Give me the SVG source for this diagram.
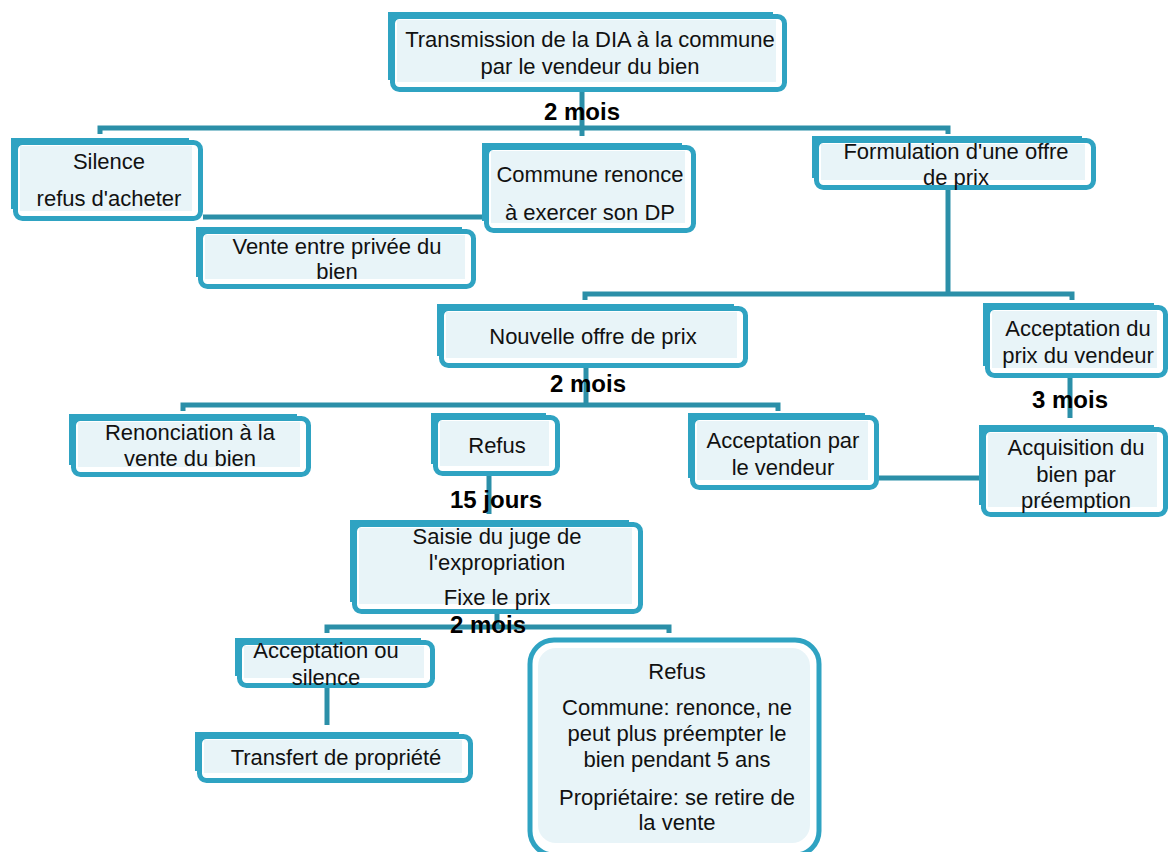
<svg xmlns="http://www.w3.org/2000/svg" width="1169" height="852" viewBox="0 0 1169 852">
<style>
.bd{fill:#fff;stroke:#2FA3C2;stroke-width:5}
.tl{fill:none;stroke:#2FA3C2;stroke-width:5}
.fl{fill:#E8F4F8}
.c{fill:none;stroke:#2B8FA8;stroke-width:5}
text{font-family:"Liberation Sans",Arial,sans-serif;font-size:22px;fill:#111;text-anchor:middle}
text.lb{font-weight:bold;font-size:24px;fill:#000}
</style>
<rect width="1169" height="852" fill="#fff"/>
<g id="connectors">
<path class="c" d="M582 88V136"/>
<path class="c" d="M100 134V128H948V134"/>
<path class="c" d="M203 217H483"/>
<path class="c" d="M948 190V294"/>
<path class="c" d="M585 300V294H1072V300"/>
<path class="c" d="M586 367V405"/>
<path class="c" d="M183 411V405H778V411"/>
<path class="c" d="M1070 378V418"/>
<path class="c" d="M879 478H979"/>
<path class="c" d="M489 476V514"/>
<path class="c" d="M327 633V627H669V633"/>
<path class="c" d="M497 614V627"/>
<path class="c" d="M327 688V725"/>
</g>
<g id="n1"><rect class="bd" x="392.5" y="16.5" width="392" height="73" rx="7"/><rect class="fl" x="397" y="20" width="379" height="62"/><path class="tl" d="M390.5 80V14.5H773"/><text x="590" y="47">Transmission de la DIA à la commune</text><text x="590" y="74">par le vendeur du bien</text></g>
<g id="n2"><rect class="bd" x="15.5" y="142.5" width="185" height="76" rx="7"/><rect class="fl" x="20" y="146" width="172" height="65"/><path class="tl" d="M13.5 209V140.5H189"/><text x="109" y="169">Silence</text><text x="109" y="206">refus d'acheter</text></g>
<g id="n3"><rect class="bd" x="486.5" y="147.5" width="207" height="83" rx="7"/><rect class="fl" x="491" y="151" width="194" height="72"/><path class="tl" d="M484.5 221V145.5H682"/><text x="590" y="182">Commune renonce</text><text x="590" y="220">à exercer son DP</text></g>
<g id="n4"><rect class="bd" x="816.5" y="140.5" width="277" height="47" rx="7"/><rect class="fl" x="821" y="144" width="264" height="36"/><path class="tl" d="M814.5 178V138.5H1082"/><text x="956" y="159">Formulation d'une offre</text><text x="956" y="185">de prix</text></g>
<g id="n5"><rect class="bd" x="200.5" y="231.5" width="273" height="55" rx="7"/><rect class="fl" x="205" y="235" width="260" height="44"/><path class="tl" d="M198.5 277V229.5H462"/><text x="337" y="254">Vente entre privée du</text><text x="337" y="279">bien</text></g>
<g id="n6"><rect class="bd" x="441.5" y="308.5" width="304" height="57" rx="7"/><rect class="fl" x="446" y="312" width="291" height="46"/><path class="tl" d="M439.5 356V306.5H734"/><text x="593" y="344">Nouvelle offre de prix</text></g>
<g id="n7"><rect class="bd" x="987.5" y="307.5" width="178" height="68" rx="7"/><rect class="fl" x="992" y="311" width="165" height="57"/><path class="tl" d="M985.5 366V305.5H1154"/><text x="1078" y="336">Acceptation du</text><text x="1078" y="363">prix du vendeur</text></g>
<g id="n8"><rect class="bd" x="73.5" y="418.5" width="235" height="56" rx="7"/><rect class="fl" x="78" y="422" width="222" height="45"/><path class="tl" d="M71.5 465V416.5H297"/><text x="190" y="440">Renonciation à la</text><text x="190" y="466">vente du bien</text></g>
<g id="n9"><rect class="bd" x="435.5" y="417.5" width="122" height="56" rx="7"/><rect class="fl" x="440" y="421" width="109" height="45"/><path class="tl" d="M433.5 464V415.5H546"/><text x="497" y="453">Refus</text></g>
<g id="n10"><rect class="bd" x="692.5" y="417.5" width="184" height="70" rx="7"/><rect class="fl" x="697" y="421" width="171" height="59"/><path class="tl" d="M690.5 478V415.5H865"/><text x="783" y="448">Acceptation par</text><text x="783" y="475">le vendeur</text></g>
<g id="n11"><rect class="bd" x="983.5" y="429.5" width="182" height="85" rx="7"/><rect class="fl" x="988" y="433" width="169" height="74"/><path class="tl" d="M981.5 505V427.5H1154"/><text x="1076" y="455">Acquisition du</text><text x="1076" y="482">bien par</text><text x="1076" y="508">préemption</text></g>
<g id="n12"><rect class="bd" x="354.5" y="524.5" width="286" height="87" rx="7"/><rect class="fl" x="359" y="528" width="273" height="76"/><path class="tl" d="M352.5 602V522.5H629"/><text x="497" y="544">Saisie du juge de</text><text x="497" y="570">l'expropriation</text><text x="497" y="605">Fixe le prix</text></g>
<g id="n13"><rect class="bd" x="239.5" y="642.5" width="193" height="43" rx="7"/><rect class="fl" x="244" y="646" width="180" height="32"/><path class="tl" d="M237.5 676V640.5H421"/><text x="326" y="658">Acceptation ou</text><text x="326" y="685">silence</text></g>
<g id="n14"><rect class="bd" x="199.5" y="736.5" width="271" height="44" rx="7"/><rect class="fl" x="204" y="740" width="258" height="33"/><path class="tl" d="M197.5 771V734.5H459"/><text x="336" y="765">Transfert de propriété</text></g>
<g id="n15"><rect class="bd" x="530" y="640" width="289" height="215" rx="24"/><rect class="fl" x="538" y="648" width="272" height="195" rx="18"/><text x="677" y="679">Refus</text><text x="677" y="715">Commune: renonce, ne</text><text x="677" y="741">peut plus préempter le</text><text x="677" y="767">bien pendant 5 ans</text><text x="677" y="805">Propriétaire: se retire de</text><text x="677" y="830">la vente</text></g>
<g id="labels">
<text class="lb" x="582" y="120">2 mois</text>
<text class="lb" x="588" y="392">2 mois</text>
<text class="lb" x="1070" y="408">3 mois</text>
<text class="lb" x="496" y="508">15 jours</text>
<text class="lb" x="488" y="633">2 mois</text>
</g>
</svg>
